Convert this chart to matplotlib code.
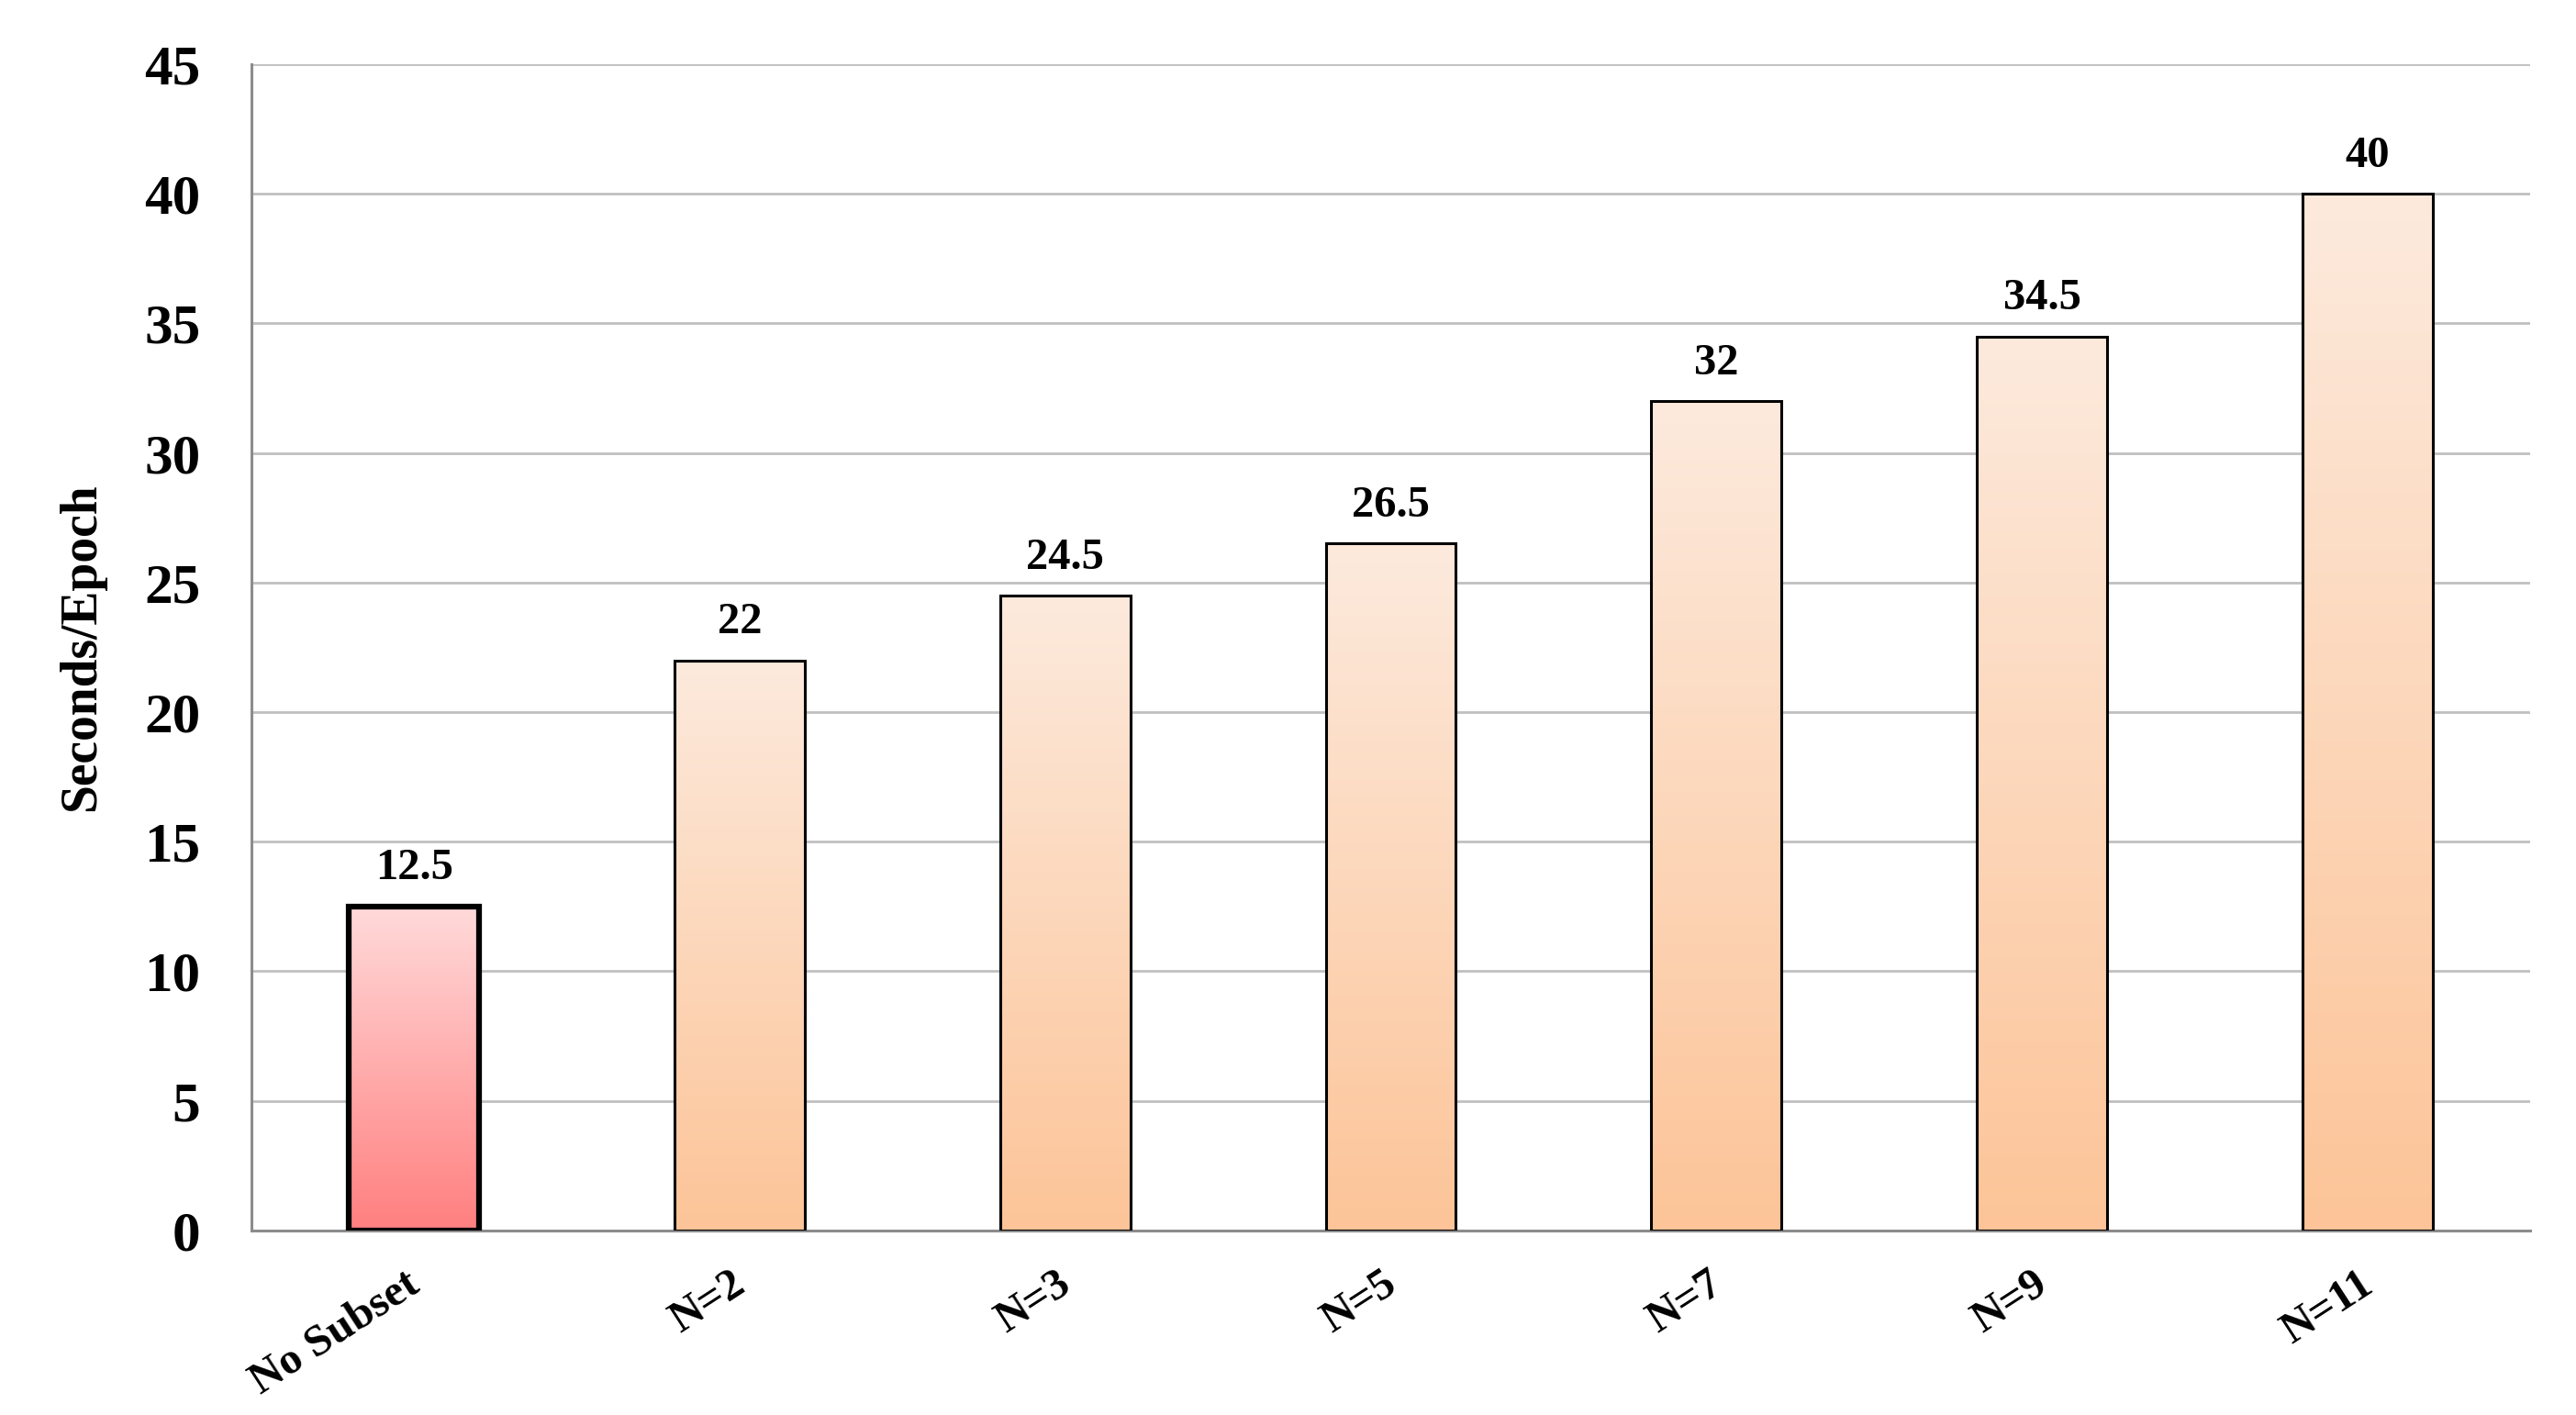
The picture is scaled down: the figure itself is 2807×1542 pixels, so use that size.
import numpy as np
import matplotlib
matplotlib.use("Agg")
import matplotlib.pyplot as plt
import matplotlib.transforms as mtransforms
from matplotlib.colors import LinearSegmentedColormap

categories = ['No Subset', 'N=2', 'N=3', 'N=5', 'N=7', 'N=9', 'N=11']
seconds_per_epoch = [12.5, 22, 24.5, 26.5, 32, 34.5, 40]
value_labels = ['12.5', '22', '24.5', '26.5', '32', '34.5', '40']
y_ticks = [0, 5, 10, 15, 20, 25, 30, 35, 40, 45]

plt.rcParams['font.family'] = ['Liberation Serif', 'DejaVu Serif']
plt.rcParams['font.weight'] = 'bold'

# gradients: (bottom colour, top colour)
baseline_grad = LinearSegmentedColormap.from_list('base', ['#FF7F7F', '#FFDADA'])
subset_grad = LinearSegmentedColormap.from_list('sub', ['#FCC498', '#FDEADD'])

fig = plt.figure(figsize=(28.07, 15.42), dpi=100)
ax = fig.add_axes([0.0976, 0.1304, 0.8846, 0.8242])

x = np.arange(len(categories))
bars = ax.bar(x, seconds_per_epoch, width=0.40, color='none',
              edgecolor='black', linewidth=2.2, zorder=3)
bars[0].set_linewidth(4.5)

grad = np.linspace(0, 1, 256).reshape(-1, 1)
for i, b in enumerate(bars):
    cmap = baseline_grad if i == 0 else subset_grad
    x0, w, h = b.get_x(), b.get_width(), b.get_height()
    im = ax.imshow(grad, cmap=cmap, origin='lower', aspect='auto',
                   extent=[x0, x0 + w, 0, h], zorder=2)
    im.set_clip_path(b)

for b, lab in zip(bars, value_labels):
    ax.annotate(lab, (b.get_x() + b.get_width() / 2, b.get_height()),
                xytext=(0, 14), textcoords='offset points',
                ha='center', va='bottom', fontsize=35, fontweight='bold')

ax.set_xlim(-0.5, len(categories) - 0.5)
ax.set_ylim(0, 45)
ax.set_yticks(y_ticks)
ax.set_yticklabels([str(t) for t in y_ticks], fontsize=44, fontweight='bold')
ax.set_xticks(x)
ax.set_xticklabels(categories, fontsize=35, fontweight='bold', rotation=33,
                   ha='right', rotation_mode='anchor')
ax.tick_params(axis='both', length=0)
ax.tick_params(axis='y', pad=40)
ax.tick_params(axis='x', pad=26)

# nudge rotated labels a little left
shift = mtransforms.ScaledTranslation(-10 / 100, 0, fig.dpi_scale_trans)
for t in ax.get_xticklabels():
    t.set_transform(t.get_transform() + shift)

ax.set_ylabel('Seconds/Epoch', fontsize=40, fontweight='bold', labelpad=30)

ax.grid(axis='y', color='#C0C0C0', linewidth=2, zorder=0)
ax.set_axisbelow(True)
for s in ['top', 'right']:
    ax.spines[s].set_visible(False)
for s in ['left', 'bottom']:
    ax.spines[s].set_color('#8C8C8C')
    ax.spines[s].set_linewidth(2.2)

fig.savefig('out.png', dpi=100)
